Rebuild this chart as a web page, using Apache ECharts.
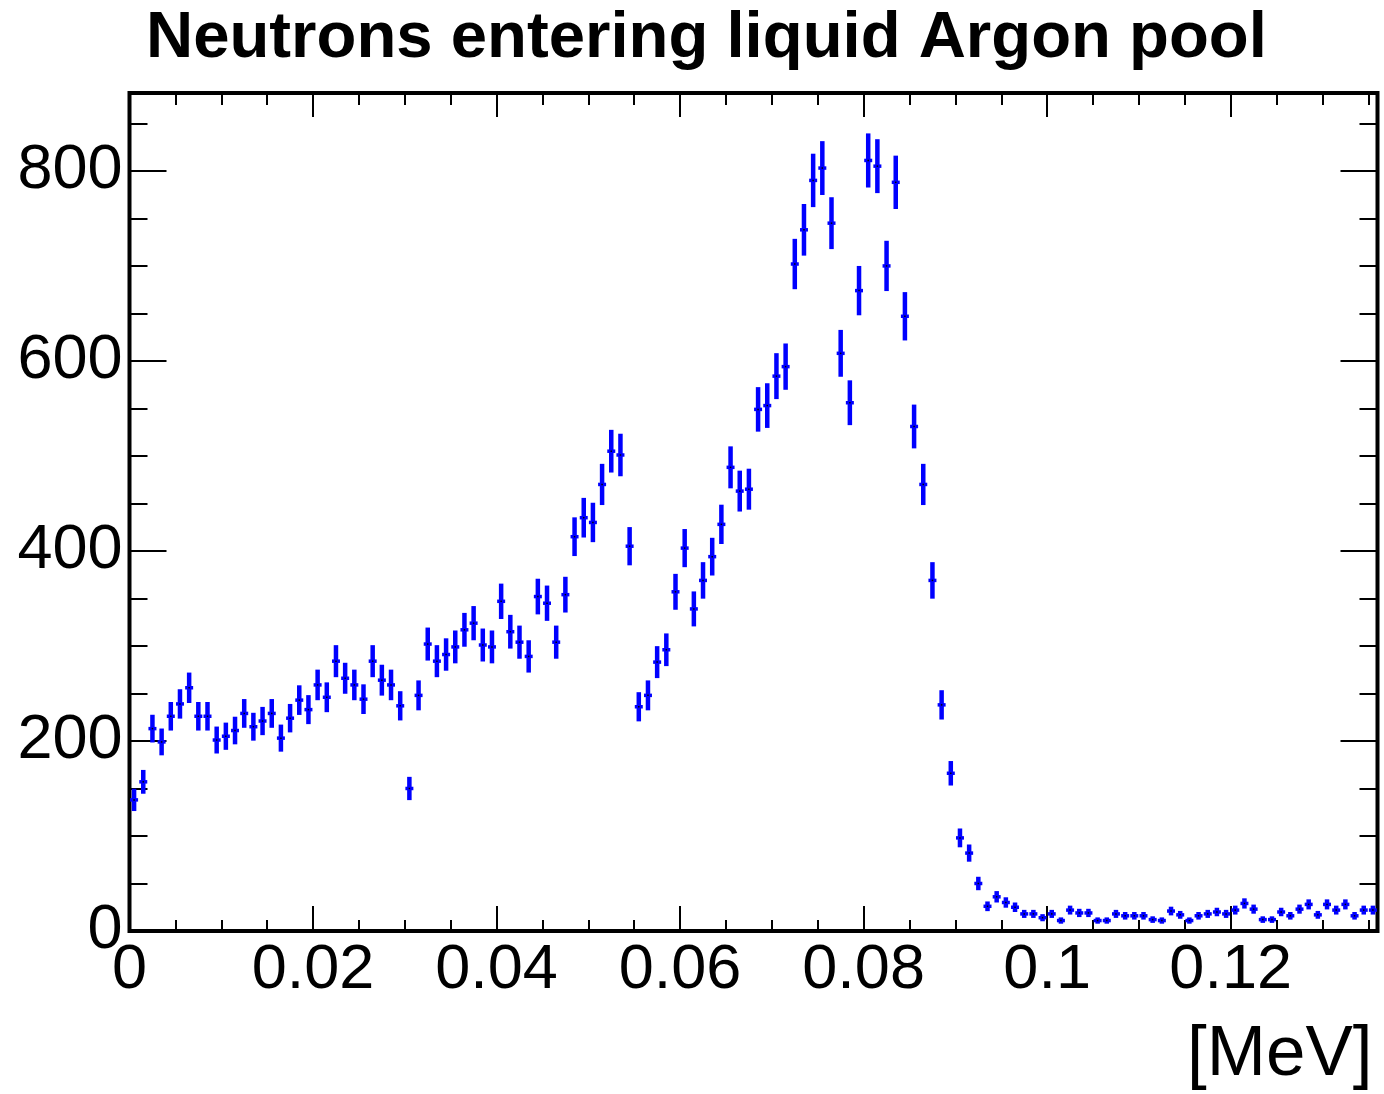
<!DOCTYPE html>
<html>
<head>
<meta charset="utf-8">
<title>Neutrons entering liquid Argon pool</title>
<script src="https://cdn.jsdelivr.net/npm/echarts@6.0.0/dist/echarts.min.js"></script>
<style>
  html, body { margin: 0; padding: 0; background: #ffffff; }
  #chart { width: 1384px; height: 1094px; }
</style>
</head>
<body>
<div id="chart"></div>
<script>
// Histogram: kinetic energy of neutrons entering the liquid argon pool.
// 136 bins of 1 keV from 0 to 0.136 MeV; error bars are Poisson (sqrt N).
const chartTitle = 'Neutrons entering liquid Argon pool';
const xAxisTitle = '[MeV]';
const binWidthMeV = 0.001;
const rangeMeV = [0, 0.136];
const rangeCounts = [0, 882];

// Counts per bin, 0-0.046 MeV
const countsLow = [
  138, 157, 213, 199, 226, 239, 256, 226, 226, 201,
  205, 211, 229, 215, 221, 229, 203, 224, 243, 233,
  259, 246, 284, 266, 259, 244, 284, 264, 259, 237,
  150, 248, 302, 284, 291, 299, 317, 324, 301, 299,
  347, 315, 304, 289, 352, 345, 304
];
// Counts per bin, 0.047-0.092 MeV
const countsPeak = [
  354, 415, 435, 430, 470, 505, 501, 405, 236, 248,
  283, 296, 357, 403, 339, 369, 394, 428, 488, 463,
  465, 549, 553, 584, 594, 702, 738, 790, 803, 745,
  608, 556, 674, 811, 805, 700, 788, 647, 531, 470,
  369, 238, 166, 98, 82, 50
];
// Counts per bin, 0.093-0.136 MeV
const countsTail = [
  26, 36, 30, 25, 18, 18, 14, 18, 11, 22,
  19, 19, 11, 11, 18, 16, 16, 16, 12, 11,
  21, 17, 11, 16, 18, 20, 18, 22, 29, 23,
  12, 12, 20, 16, 23, 28, 17, 28, 22, 28,
  16, 22, 22
];

const xMajorTicks = 0.02, xMinorTicks = 0.005;
const yMajorTicks = 200, yMinorTicks = 50;

const counts = countsLow.concat(countsPeak, countsTail);
const histData = counts.map((n, i) => [(i + 0.5) * binWidthMeV, n, Math.sqrt(n)]);

const FONT = '"Liberation Sans", Arial, Helvetica, sans-serif';
const MARK = '#0000ff';

// One axis per side and per tick size: major ticks (with labels) and minor ticks.
function xAxisDef(position, interval, tickLen, withLabels) {
  return {
    type: 'value', position: position, min: rangeMeV[0], max: rangeMeV[1], interval: interval,
    axisLine: { show: false, onZero: false }, splitLine: { show: false },
    axisTick: { show: true, inside: true, length: tickLen, lineStyle: { color: '#000', width: 2 } },
    axisLabel: withLabels ? {
      show: true, margin: 8, color: '#000', fontFamily: FONT, fontSize: 63,
      showMaxLabel: false,
      formatter: v => String(+v.toFixed(3))
    } : { show: false }
  };
}
function yAxisDef(position, interval, tickLen, withLabels) {
  return {
    type: 'value', position: position, min: rangeCounts[0], max: rangeCounts[1], interval: interval,
    axisLine: { show: false, onZero: false }, splitLine: { show: false },
    axisTick: { show: true, inside: true, length: tickLen, lineStyle: { color: '#000', width: 2 } },
    axisLabel: withLabels ? {
      show: true, margin: 7, color: '#000', fontFamily: FONT, fontSize: 63,
      showMaxLabel: false
    } : { show: false }
  };
}

const xMain = xAxisDef('bottom', xMajorTicks, 25, true);
xMain.name = xAxisTitle;
xMain.nameLocation = 'end';
xMain.nameGap = -5;
xMain.nameTextStyle = {
  color: '#000', fontFamily: FONT, fontSize: 71,
  align: 'right', verticalAlign: 'top', padding: [89, 0, 0, 0]
};

const chart = echarts.init(document.getElementById('chart'), null, { renderer: 'canvas' });
chart.setOption({
  animation: false,
  backgroundColor: '#ffffff',
  title: {
    text: chartTitle, left: 146, top: 6, padding: 0,
    textStyle: { color: '#000', fontFamily: FONT, fontWeight: 'bold', fontSize: 65.3 }
  },
  grid: {
    left: 129.5, right: 6.5, top: 93, bottom: 163,
    show: true, borderColor: '#000', borderWidth: 4, backgroundColor: 'transparent'
  },
  xAxis: [
    xMain,
    xAxisDef('bottom', xMinorTicks, 11, false),
    xAxisDef('top', xMajorTicks, 24, false),
    xAxisDef('top', xMinorTicks, 12, false)
  ],
  yAxis: [
    yAxisDef('left', yMajorTicks, 37, true),
    yAxisDef('left', yMinorTicks, 18, false),
    yAxisDef('right', yMajorTicks, 37, false),
    yAxisDef('right', yMinorTicks, 18, false)
  ],
  series: [{
    type: 'custom',
    xAxisIndex: 0, yAxisIndex: 0,
    data: histData,
    encode: { x: 0, y: 1 },
    clip: true,
    renderItem: function (params, api) {
      const x = api.value(0), n = api.value(1), e = api.value(2);
      const c = api.coord([x, n]);
      const yTop = api.coord([x, n + e])[1];
      const yBot = api.coord([x, Math.max(n - e, 0)])[1];
      return {
        type: 'group',
        children: [
          { type: 'line', shape: { x1: c[0], y1: yTop, x2: c[0], y2: yBot },
            style: { stroke: MARK, lineWidth: 4.5 } },
          { type: 'line', shape: { x1: c[0] - 4, y1: c[1], x2: c[0] + 4, y2: c[1] },
            style: { stroke: MARK, lineWidth: 3.5 } },
          { type: 'rect', shape: { x: c[0] - 0.75, y: c[1] - 0.75, width: 1.5, height: 1.5 },
            style: { fill: '#000' } }
        ]
      };
    }
  }]
});
</script>
</body>
</html>
